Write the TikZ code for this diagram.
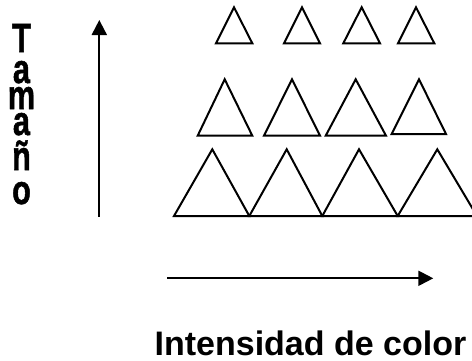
\documentclass[tikz,border=0pt]{standalone}
\usepackage{fontspec}
\setmainfont{Liberation Sans}
\newfontfamily\gruesa{Liberation Sans Bold}[FakeBold=1.4]
\usetikzlibrary{arrows.meta}

\begin{document}
\begin{tikzpicture}[x=0.5pt,y=-0.5pt,
  tri/.style={black, line width=1pt, line join=miter},
  axis/.style={black, line width=1pt, -{Triangle[length=7.5pt,width=7.5pt]}},
  letra/.style={anchor=base, inner sep=0, text height=1.1ex, text depth=0pt, font=\gruesa\fontsize{20.5}{20.5}\selectfont}]
\useasboundingbox (0,0) rectangle (472,360);
\begin{scope}
\clip (0,0) rectangle (472,360);
% fila de arriba
\foreach \l/\r/\a in {216/252.3/234, 284/320/302, 343.3/380/361.7, 398/434.3/416}
  \draw[tri] (\l,43.3) -- (\a,7.3) -- (\r,43.3) -- cycle;
% fila del medio
\foreach \l/\r/\a/\b in {197.7/252.3/224.7/135.7, 264/320/292/135.7, 325.7/386/355.7/135.7, 391.7/446/419/134}
  \draw[tri] (\l,\b) -- (\a,79.3) -- (\r,\b) -- cycle;
% fila de abajo
\foreach \l/\r/\a in {174/249.3/212.3, 249.3/322.3/286.7, 322.3/397.7/359, 397.7/477/437.3}
  \draw[tri] (\l,216) -- (\a,149.3) -- (\r,216) -- cycle;
\end{scope}
% ejes
\coordinate (v0) at (99.3,216.7);
\coordinate (v1) at (99.3,20);
\coordinate (h0) at (167.3,278.3);
\coordinate (h1) at (433.3,278.3);
\draw[axis] (v0) -- (v1);
\draw[axis] (h0) -- (h1);
% Tamaño en vertical
\foreach \c/\y [count=\i from 0] in {T/52,a/83,m/109,a/135,ñ/170,o/204}
  \node[letra] (t\i) at (21.5,\y) {\scalebox{0.75}[1]{\c}};
\node[anchor=base, inner sep=0, font=\bfseries\fontsize{17}{17}\selectfont] (intens) at (310.5,355) {Intensidad de color};
\end{tikzpicture}
\end{document}
